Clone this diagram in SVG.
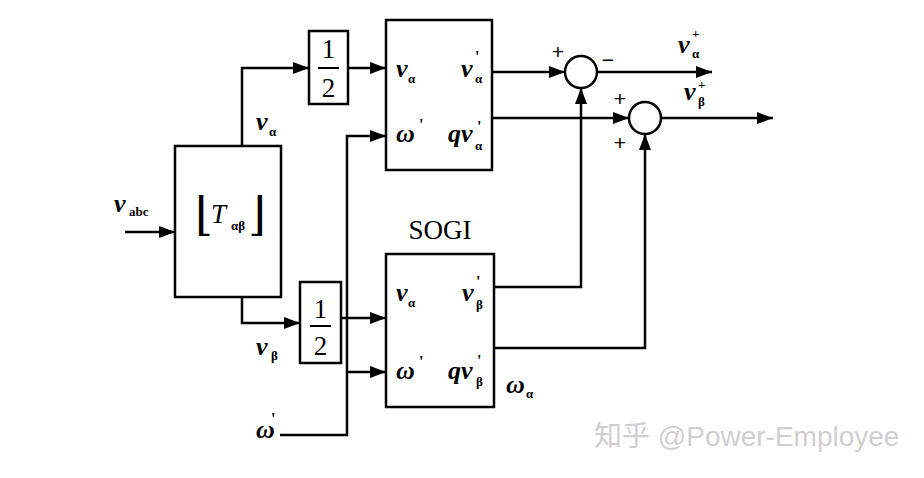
<svg xmlns="http://www.w3.org/2000/svg" width="924" height="478" viewBox="0 0 924 478">
<defs>
<marker id="arr" markerUnits="userSpaceOnUse" markerWidth="17" markerHeight="12" refX="16" refY="6" orient="auto"><path d="M0,0 L16,6 L0,12 Z" fill="#000"/></marker>
</defs>
<style>
.blk{fill:#fff;stroke:#000;stroke-width:2.5}
.ln{fill:none;stroke:#000;stroke-width:2.5}
.var{font-family:"Liberation Serif",serif;font-style:italic;font-weight:bold;font-size:26px;fill:#000}
.sub{font-family:"Liberation Serif",serif;font-style:normal;font-weight:bold;font-size:13px;fill:#000}
.pr{font-family:"Liberation Serif",serif;font-style:normal;font-weight:bold;font-size:16px;fill:#000}
.num{font-family:"Liberation Serif",serif;font-size:27px;fill:#000;text-anchor:middle}
.sgn{font-family:"Liberation Sans",sans-serif;font-size:21px;fill:#000;text-anchor:middle}
.br{font-family:"DejaVu Serif",serif;font-size:46px;font-weight:normal;font-style:normal;fill:#000}
</style>
<rect width="924" height="478" fill="#fff"/>

<g id="connectors">
<path class="ln" d="M125,232 H175" marker-end="url(#arr)"/>
<path class="ln" d="M242,146 V68 H309" marker-end="url(#arr)"/>
<path class="ln" d="M348,68 H386" marker-end="url(#arr)"/>
<path class="ln" d="M280,435 H347 V136 H386" marker-end="url(#arr)"/>
<path class="ln" d="M347,372 H386" marker-end="url(#arr)"/>
<path class="ln" d="M242,297 V323 H300" marker-end="url(#arr)"/>
<path class="ln" d="M341,318 H386" marker-end="url(#arr)"/>
<path class="ln" d="M492,72 H565" marker-end="url(#arr)"/>
<path class="ln" d="M597,72 H712" marker-end="url(#arr)"/>
<path class="ln" d="M492,118 H629" marker-end="url(#arr)"/>
<path class="ln" d="M661,118 H773" marker-end="url(#arr)"/>
<path class="ln" d="M494,287 H581 V88" marker-end="url(#arr)"/>
<path class="ln" d="M494,348 H645 V134" marker-end="url(#arr)"/>
</g>

<g id="transform">
<rect class="blk" x="175" y="146" width="106" height="151"/>
<text><tspan class="br" x="195" y="230">⌊</tspan><tspan x="211" y="223" font-family="Liberation Serif, serif" font-style="italic" font-size="27">T</tspan><tspan class="sub" x="231" y="230">αβ</tspan><tspan class="br" x="248" y="230">⌋</tspan></text>
</g>

<g id="half1">
<rect class="blk" x="309" y="31" width="39" height="73"/>
<text class="num" x="328.5" y="58">1</text>
<line x1="318" y1="68" x2="339" y2="68" stroke="#000" stroke-width="2"/>
<text class="num" x="328.5" y="97">2</text>
</g>

<g id="half2">
<rect class="blk" x="300" y="282" width="41" height="81"/>
<text class="num" x="320.5" y="318">1</text>
<line x1="310" y1="326" x2="331" y2="326" stroke="#000" stroke-width="2"/>
<text class="num" x="320.5" y="355">2</text>
</g>

<g id="sogi1">
<rect class="blk" x="386" y="20" width="106" height="150"/>
<text class="var" x="396" y="77">v<tspan class="sub" x="408" y="83">α</tspan></text>
<text class="var" x="461" y="77">v<tspan class="pr" x="475" y="62">'</tspan><tspan class="sub" x="475" y="83">α</tspan></text>
<text class="var" x="396" y="142">ω<tspan class="pr" x="419" y="130">'</tspan></text>
<text class="var" x="448" y="142">qv<tspan class="pr" x="477" y="132">'</tspan><tspan class="sub" x="475" y="150">α</tspan></text>
</g>

<g id="sogi2">
<text x="440" y="239" font-family="Liberation Serif, serif" font-size="27" text-anchor="middle">SOGI</text>
<rect class="blk" x="386" y="254" width="108" height="153"/>
<text class="var" x="396" y="301">v<tspan class="sub" x="408" y="307">α</tspan></text>
<text class="var" x="462" y="301">v<tspan class="pr" x="476" y="287">'</tspan><tspan class="sub" x="476" y="309">β</tspan></text>
<text class="var" x="396" y="379">ω<tspan class="pr" x="419" y="367">'</tspan></text>
<text class="var" x="448" y="379">qv<tspan class="pr" x="477" y="366">'</tspan><tspan class="sub" x="476" y="386">β</tspan></text>
</g>

<g id="sum1">
<circle cx="581" cy="72" r="16" fill="#fff" stroke="#000" stroke-width="2.5"/>
<text class="sgn" x="558" y="59">+</text>
<text class="sgn" x="608" y="67">−</text>
</g>

<g id="sum2">
<circle cx="645" cy="118" r="16" fill="#fff" stroke="#000" stroke-width="2.5"/>
<text class="sgn" x="620" y="106">+</text>
<text class="sgn" x="620" y="150">+</text>
</g>

<g id="labels">
<text class="var" x="114" y="212" font-size="27">v<tspan class="sub" x="129" y="216">abc</tspan></text>
<text class="var" x="256" y="130">v<tspan class="sub" x="269" y="136">α</tspan></text>
<text class="var" x="256" y="355">v<tspan class="sub" x="271" y="360">β</tspan></text>
<text class="var" x="256" y="438" font-size="29">ω<tspan class="pr" x="271" y="424" font-size="22">'</tspan></text>
<text class="var" x="506" y="393">ω<tspan class="sub" x="526" y="398">α</tspan></text>
<text class="var" x="678" y="53" font-size="24">v<tspan class="sub" x="692" y="38">+</tspan><tspan class="sub" x="692" y="58">α</tspan></text>
<text class="var" x="684" y="100" font-size="24">v<tspan class="sub" x="698" y="89">+</tspan><tspan class="sub" x="698" y="106">β</tspan></text>
</g>

<text x="594" y="446" font-family="Liberation Sans, 'Noto Sans CJK SC', sans-serif" font-size="28" fill="#cfcfcf">知乎 @Power-Employee</text>
</svg>
